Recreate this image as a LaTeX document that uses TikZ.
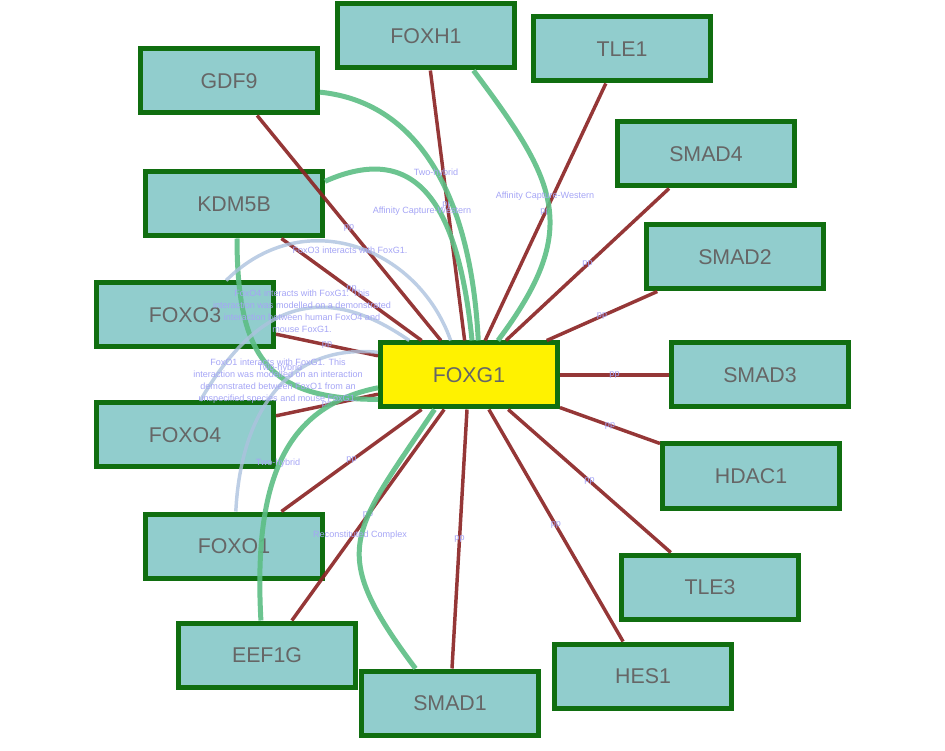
\documentclass[tikz,border=0pt]{standalone}
\usepackage{fontspec}
\setmainfont{Liberation Sans}

\definecolor{caixa}{RGB}{145,205,205}
\definecolor{borda}{RGB}{16,110,16}
\definecolor{cinza}{RGB}{102,102,102}
\definecolor{vermelho}{RGB}{140,38,38}
\definecolor{verde}{RGB}{92,190,132}
\definecolor{azul}{RGB}{172,194,222}
\definecolor{lilas}{RGB}{165,165,245}

\tikzset{
  gene/.style={draw=borda, line width=3.75pt, fill=caixa, minimum width=132.75pt,
    minimum height=48pt, inner sep=0pt, text=cinza, font=\fontsize{16}{19}\selectfont},
  foco/.style={gene, fill=yellow},
  pp/.style={draw=vermelho, line width=2.6pt, draw opacity=0.92},
  verdearco/.style={draw=verde, line width=3.75pt, draw opacity=0.9},
  azularco/.style={draw=azul, line width=2.6pt, draw opacity=0.8},
  rotulo/.style={text=lilas, inner sep=0pt, align=center, font=\fontsize{6.8}{9}\selectfont}
}

\begin{document}
\begin{tikzpicture}[x=0.75pt, y=0.75pt]
  \useasboundingbox (0,0) rectangle (945,750);

  % Nós
  \node[foco] (FOXG1) at (469,375) {FOXG1};
  \node[gene] (FOXH1) at (426,714) {FOXH1};
  \node[gene] (TLE1)  at (622,701) {TLE1};
  \node[gene] (GDF9)  at (229,669) {GDF9};
  \node[gene] (SMAD4) at (706,596) {SMAD4};
  \node[gene] (KDM5B) at (234,546) {KDM5B};
  \node[gene] (SMAD2) at (735,493) {SMAD2};
  \node[gene] (FOXO3) at (185,435) {FOXO3};
  \node[gene] (SMAD3) at (760,375) {SMAD3};
  \node[gene] (FOXO4) at (185,315) {FOXO4};
  \node[gene] (HDAC1) at (751,274) {HDAC1};
  \node[gene] (FOXO1) at (234,204) {FOXO1};
  \node[gene] (TLE3)  at (710,163) {TLE3};
  \node[gene] (EEF1G) at (267,95)  {EEF1G};
  \node[gene] (HES1)  at (643,74)  {HES1};
  \node[gene] (SMAD1) at (450,47)  {SMAD1};

  % Arestas pp
  \foreach \g in {FOXH1,TLE1,GDF9,SMAD4,KDM5B,SMAD2,FOXO3,SMAD3,FOXO4,HDAC1,FOXO1,TLE3,EEF1G,HES1,SMAD1}
    \draw[pp] (FOXG1) -- (\g) node[midway, rotulo] (pp\g) {pp};

  % Curvas verdes
  \draw[verdearco] (GDF9.-7) .. controls +(95,-9.5) and +(-7.5,150) .. (FOXG1.75);
  \draw[verdearco] (FOXH1.-36) .. controls +(84,-112) and +(84,112) .. (FOXG1.50);
  \draw[verdearco] (KDM5B.14) .. controls +(90,40) and +(-14,140) .. (FOXG1.85);
  \draw[verdearco] (KDM5B.-85) .. controls +(0,-124) and +(-106,0) .. (FOXG1.195);
  \draw[verdearco] (EEF1G.100) .. controls +(-8,145) and +(-90,-18) .. (FOXG1.188);
  \draw[verdearco] (SMAD1.135) .. controls +(-90,120) and +(-82.5,-124.5) .. (FOXG1.-135);

  % Curvas azuis
  \draw[azularco] (FOXO3.40) .. controls +(77,77) and +(-33,94) .. (FOXG1.118);
  \draw[azularco] (FOXO4.66) .. controls +(60,103) and +(-82,57) .. (FOXG1.150);
  \draw[azularco] (FOXO1.87) .. controls +(5,100) and +(-90,9) .. (FOXG1.166);

  % Rótulos
  \node[rotulo] (tGDF9)  at (436,577) {Two-hybrid};
  \node[rotulo] (tKDM5B) at (422,539) {Affinity Capture-Western};
  \node[rotulo] (tFOXH1) at (545,554) {Affinity Capture-Western};
  \node[rotulo] (tFOXO3) at (350,500) {FoxO3 interacts with FoxG1.};
  \node[rotulo] (tFOXO4) at (302,439) {FoxO4 interacts with FoxG1. This\\interaction was modelled on a demonstrated\\interaction between human FoxO4 and\\mouse FoxG1.};
  \node[rotulo] (tFOXO1) at (278,369) {FoxO1 interacts with FoxG1. This\\interaction was modelled on an interaction\\demonstrated between FoxO1 from an\\unspecified species and mouse FoxG1.};
  \node[rotulo] (tKDM5Bb) at (280,382) {Two-hybrid};
  \node[rotulo] (tEEF1G) at (278,287) {Two-hybrid};
  \node[rotulo] (tSMAD1) at (360,215) {Reconstituted Complex};
\end{tikzpicture}
\end{document}
